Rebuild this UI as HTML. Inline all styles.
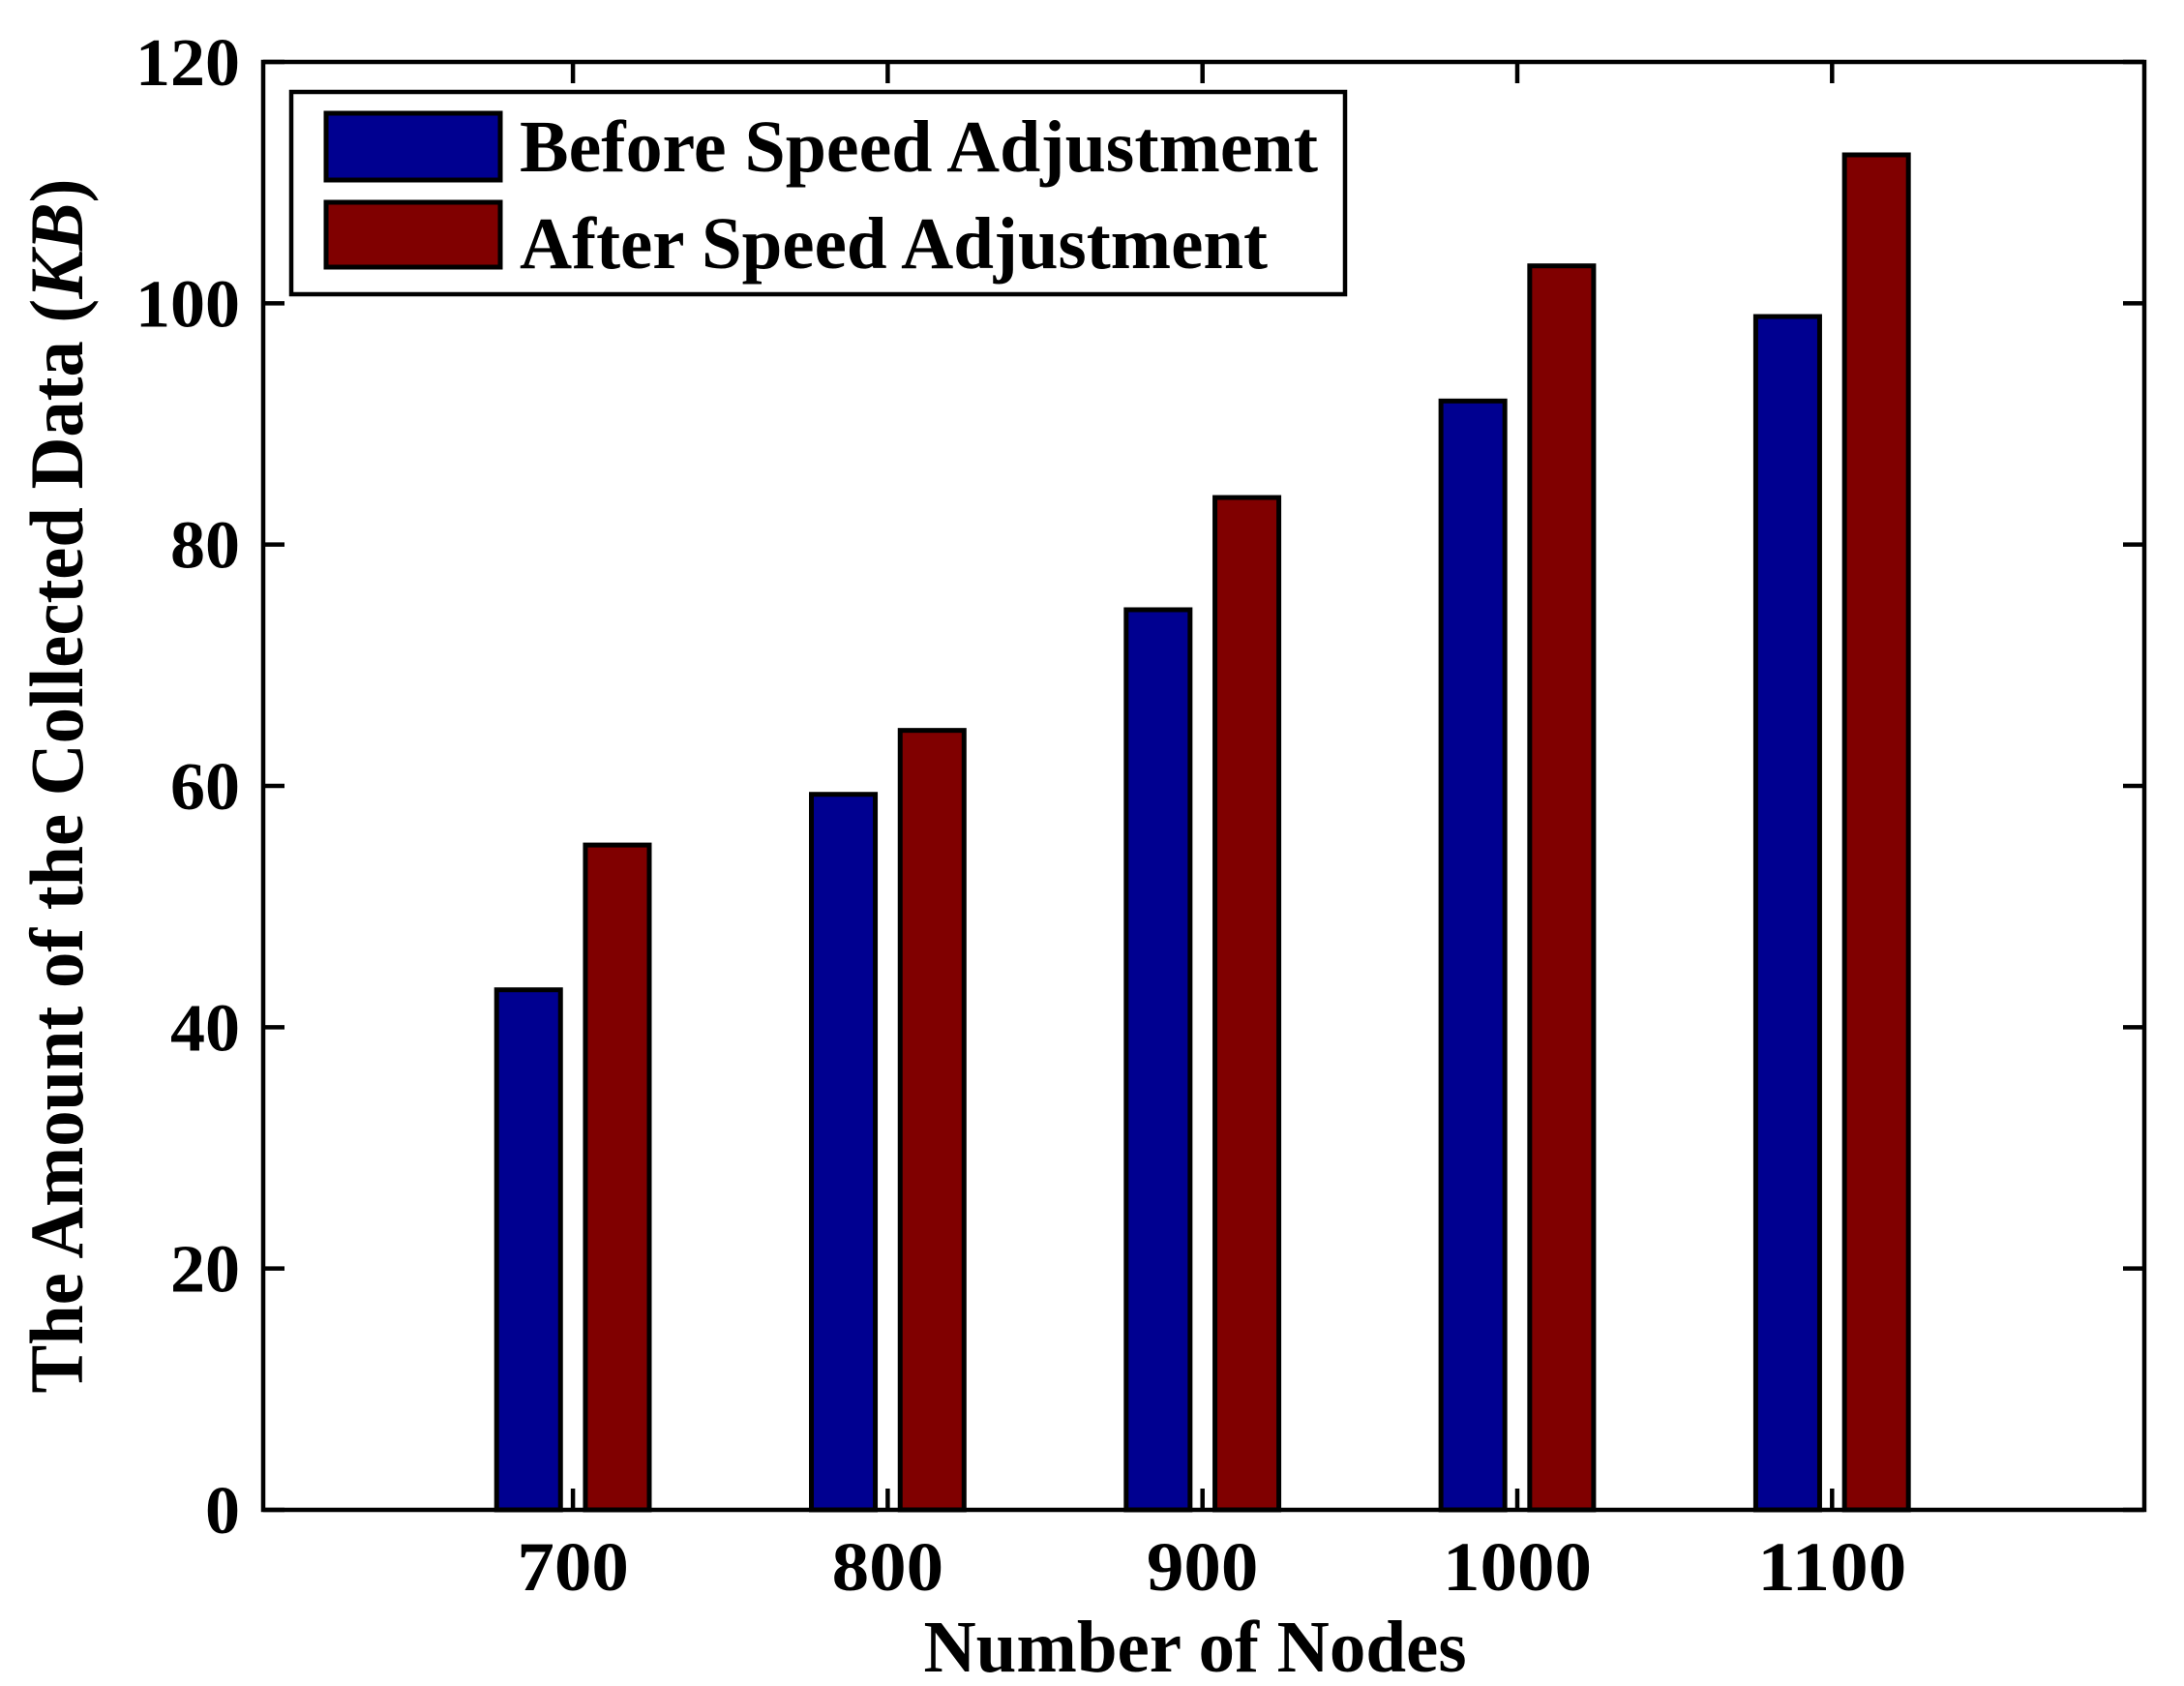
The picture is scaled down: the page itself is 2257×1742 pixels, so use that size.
<!DOCTYPE html>
<html><head><meta charset="utf-8"><style>
html,body{margin:0;padding:0;background:#fff;}
svg{display:block;font-family:"Liberation Serif",serif;font-weight:bold;}
</style></head><body>
<svg id="chart" width="2257" height="1742" viewBox="0 0 2257 1742">
<rect width="2257" height="1742" fill="#fff"/>
<g id="bars"></g>
<g id="axes"></g>
<g>
<rect x="301" y="95" width="1089" height="209" fill="#fff" stroke="#000" stroke-width="4.5"/>
<rect x="337" y="117" width="180" height="69" fill="#000090" stroke="#000" stroke-width="5"/>
<rect x="337" y="209" width="180" height="67" fill="#800000" stroke="#000" stroke-width="5"/>
<text x="537" y="177" font-size="76" textLength="825" lengthAdjust="spacingAndGlyphs">Before Speed Adjustment</text>
<text x="537" y="277" font-size="76" textLength="773" lengthAdjust="spacingAndGlyphs">After Speed Adjustment</text>
</g>
<text x="1235" y="1727" font-size="76" text-anchor="middle" textLength="561" lengthAdjust="spacingAndGlyphs">Number of Nodes</text>
<text transform="translate(85,812) rotate(-90)" font-size="78" text-anchor="middle" textLength="1255" lengthAdjust="spacingAndGlyphs">The Amount of the Collected Data (<tspan font-style="italic">KB</tspan>)</text>
</svg>
<script>
const categories = [700, 800, 900, 1000, 1100];
const categoryLabels = ["700", "800", "900", "1000", "1100"];
const beforeValues = [43.1, 59.3, 74.6, 91.9, 98.9];
const afterValues = [55.1, 64.6, 83.9, 103.1, 112.3];
const yTicks = [0, 20, 40, 60, 80, 100, 120];
const yTickLabels = ["0", "20", "40", "60", "80", "100", "120"];

const NS = "http://www.w3.org/2000/svg";
const L = 272, R = 2216, T = 64, B = 1560;
const xMin = 601.6, xMax = 1199.2, yMin = 0, yMax = 120;
const xs = v => L + (v - xMin) / (xMax - xMin) * (R - L);
const ys = v => B - (v - yMin) / (yMax - yMin) * (B - T);
function mk(tag, attrs, parent) {
  const e = document.createElementNS(NS, tag);
  for (const k in attrs) e.setAttribute(k, attrs[k]);
  parent.appendChild(e);
  return e;
}
const barsG = document.getElementById('bars');
const axesG = document.getElementById('axes');
const barW = 20.3, off = 14.1;
categories.forEach((c, i) => {
  const series = [[beforeValues[i], -off, '#000090', 'before'], [afterValues[i], off, '#800000', 'after']];
  series.forEach(s => {
    const x0 = xs(c + s[1] - barW / 2), x1 = xs(c + s[1] + barW / 2);
    const r = mk('rect', {x: x0, y: ys(s[0]), width: x1 - x0, height: ys(0) - ys(s[0]), fill: s[2], stroke: '#000', 'stroke-width': 5}, barsG);
    
    
  });
});
const frame = mk('rect', {x: L, y: T, width: R - L, height: B - T, fill: 'none', stroke: '#000', 'stroke-width': 4.5}, axesG);


yTicks.forEach((v, i) => {
  const y = ys(v);
  mk('line', {x1: L, x2: L + 22, y1: y, y2: y, stroke: '#000', 'stroke-width': 4.5}, axesG);
  mk('line', {x1: R, x2: R - 22, y1: y, y2: y, stroke: '#000', 'stroke-width': 4.5}, axesG);
  const len = yTickLabels[i].length;
  const t = mk('text', {x: 248, y: y + 24, 'font-size': 70, 'text-anchor': 'end', textLength: len * 36, lengthAdjust: 'spacingAndGlyphs'}, axesG);
  t.textContent = yTickLabels[i];
  
  
});
categories.forEach((c, i) => {
  const x = xs(c);
  mk('line', {x1: x, x2: x, y1: B, y2: B - 22, stroke: '#000', 'stroke-width': 4.5}, axesG);
  mk('line', {x1: x, x2: x, y1: T, y2: T + 22, stroke: '#000', 'stroke-width': 4.5}, axesG);
  const len = categoryLabels[i].length;
  const t = mk('text', {x: x, y: 1643, 'font-size': 72, 'text-anchor': 'middle', textLength: len * 38.5, lengthAdjust: 'spacingAndGlyphs'}, axesG);
  t.textContent = categoryLabels[i];
  
  
});
</script>
</body></html>
